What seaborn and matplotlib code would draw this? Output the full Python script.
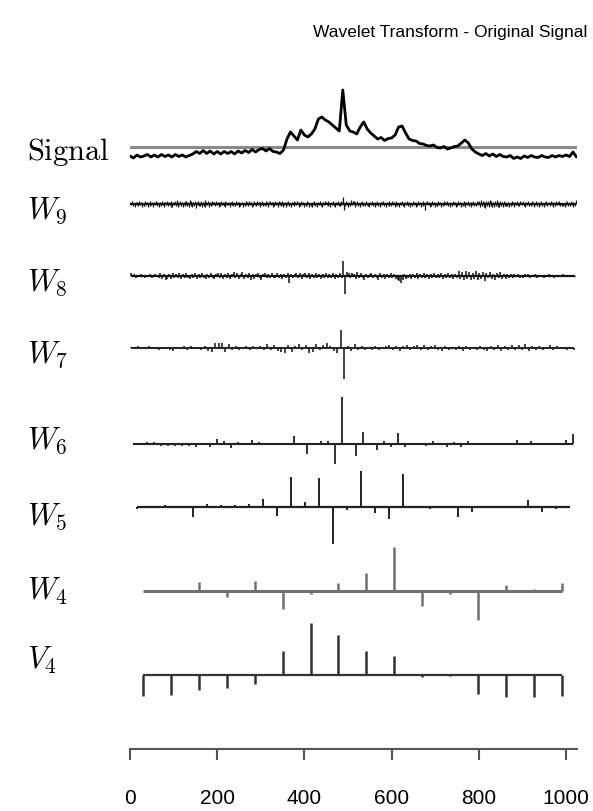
import numpy as np
import matplotlib
matplotlib.use("Agg")
import matplotlib.pyplot as plt
import seaborn as sns

# ---------------- data (pixel-ish amplitude units) -------------
title = "Wavelet Transform - Original Signal"
row_labels = [r"$\mathrm{Signal}$", r"$W_9$", r"$W_8$", r"$W_7$", r"$W_6$", r"$W_5$", r"$W_4$", r"$V_4$"]
xtick_values = [0, 200, 400, 600, 800, 1000]

# original signal, sampled every 8 points (0 .. 1024)
signal = [-9, -11, -8, -10, -9, -7.5, -10, -8, -10, -7.5, -9.5, -8, -10, -7.5, -9.5, -8,
          -10, -8.5, -7, -4.5, -6.5, -3.5, -6.5, -4, -7, -4.5, -7, -4.5, -6.5, -4.5, -7, -4,
          -6, -3.5, -5.5, -2.5, -5, -2.5, -1.5, -4, -1.5, -4.5, -5, -6.5, -3, 8, 15, 11,
          7, 17, 12, 10, 13, 18, 28, 30, 27, 25, 22, 19, 16, 57, 22, 16,
          15, 13, 20, 25, 18, 14, 11, 8, 9.5, 6.5, 8.5, 9, 12, 20, 21, 14,
          8, 6.5, 6, 3.5, 3, 1.5, 1, 2, -0.5, -1, 0.5, -2, -1, 0.5, 1, 4,
          7, 4, -2, -5, -7, -8.5, -6.5, -9, -7, -9.5, -7.5, -9.5, -10, -8.5, -11.5, -10,
          -11.5, -9, -10.5, -8.5, -10, -10.5, -8.5, -10, -10.5, -8.5, -10, -8.5, -9.5, -8, -9.5, -5,
          -10]

w9 = [2, -1, 3, -2, 1, -3, 2, -1, 2, -2, 3, -1, 2, -3, 1, -2,
      -2, 3, -1, 2, -3, 1, -2, 3, -1, 2, -3, 2, -1, 3, -2, 2,
      1, -3, 2, -2, 3, -1, 2, -3, 2, -1, 3, -2, 2, -1, 3, -3,
      -3, 2, -1, 3, -2, 4, -3, 2, -1, 3, -2, 2, -3, 1, -2, 3,
      3, -2, 2, -3, 4, -2, 3, -3, 2, -2, 3, -4, 2, -1, 3, -2,
      -2, 3, -3, 2, -2, 4, -3, 2, -1, 3, -3, 2, -2, 3, -1, 2,
      2, -2, 3, -1, 2, -3, 2, -2, 3, -1, 2, -2, 3, -3, 2, -1,
      -1, 2, -3, 2, -1, 3, -2, 1, -2, 3, -1, 2, -3, 2, -2, 1,
      2, -3, 1, -2, 3, -1, 2, -2, 3, -1, 2, -3, 1, -2, 3, -1,
      -2, 3, -1, 2, -3, 2, -1, 3, -2, 1, -2, 3, -1, 2, -3, 2,
      3, -1, 2, -3, 2, -2, 3, -1, 2, -3, 3, -1, 2, -2, 3, -3,
      -1, 2, -3, 2, -1, 3, -2, 1, -3, 2, -1, 3, -2, 2, -1, 3,
      2, -3, 1, -2, 3, -1, 2, -3, 1, -2, 3, -1, 2, -3, 1, -2,
      -3, 2, -1, 3, -2, 1, -3, 2, -1, 3, -2, 1, -3, 2, -1, 3,
      2, -1, 3, -2, 1, -3, 2, -1, 3, -2, 1, -3, 2, -1, 3, -2,
      -2, 3, -1, 2, 7, -6, -2, 3, -1, 2, -3, 1, -2, 4, -1, 3,
      3, -3, 2, -1, 3, -2, 1, -3, 2, -1, 3, -2, 1, -2, 3, -1,
      -2, 1, -3, 2, -1, 3, -2, 1, -3, 2, -1, 3, -2, 1, -3, 2,
      2, -1, 3, -2, 1, -3, 2, -1, 3, -2, 1, -2, 3, -1, 2, -3,
      -1, 3, -2, 1, -3, 2, -1, 3, -2, 1, -3, 2, -1, 3, -2, 1,
      2, -3, 1, -2, 3, -1, 2, -3, 1, -2, 3, -1, 2, -3, 1, -2,
      3, -1, -6, 2, 3, -1, 2, -3, 1, -2, 3, -1, 2, -3, 1, -2,
      -2, 3, -1, 2, -3, 1, -2, 3, -1, 2, -1, 3, -2, 1, -3, 2,
      1, -2, 3, -1, 2, -3, 1, -2, 3, -1, 2, -3, 1, -2, 3, -1,
      -3, 2, -1, 3, -2, 1, -3, 2, -1, 3, -2, 1, -2, 3, -1, 2,
      3, -3, 4, -2, 3, -3, 2, -4, 3, -2, 3, -3, 4, -2, 3, -3,
      2, -3, 3, -2, 4, -3, 2, -3, 3, -2, 2, -3, 3, -2, 2, -2,
      -2, 2, -3, 1, -2, 3, -1, 2, -3, 2, -1, 3, -2, 1, -2, 3,
      2, -1, 3, -2, 1, -3, 2, -1, 3, -2, 1, -2, 3, -1, 2, -3,
      -1, 3, -2, 1, -3, 2, -1, 3, -2, 1, -3, 2, -1, 3, -2, 1,
      2, -2, 3, -1, 2, -3, 1, -2, 3, -1, 2, -1, 3, -2, 1, -2,
      -2, 1, -3, 2, -1, 3, -2, 1, -2, 3, -1, 2, -3, 1, -2, 4]

w8 = [3, -1, 2, -2, 1, -1, 2, 1, -2, 1, -1, 2, -2, 1, 2, -1,
      -2, 3, -3, 2, -4, -3, 2, -3, 3, -2, 2, -2, 3, -3, 2, -2,
      3, -2, -3, 2, -2, 3, -3, 2, -2, 3, -2, -3, 2, -2, 3, -2,
      -3, 2, 3, -2, 3, -3, 2, -2, 3, -3, 2, 4, -2, 3, -3, 2,
      4, -3, 2, -2, 3, -4, 2, -3, 2, 3, -2, -4, 2, 3, -2, 2,
      -2, 3, -2, -2, 3, -2, 2, -3, 2, -2, 3, -7, 2, -2, 2, 3,
      -2, 3, -3, 2, 3, -2, 3, -3, 2, -2, 3, -2, 2, -3, 2, -2,
      3, -2, 2, -2, 3, -3, 2, -2, 3, -2, 15, -18, 4, 3, -2, 3,
      2, -3, 4, -2, 3, -2, -4, 2, -2, 2, 3, -2, 2, -2, -4, 3,
      -2, 2, -3, 2, -2, 3, -2, 2, -3, -4, -5, -7, -4, 2, -3, -2,
      2, -3, 2, -2, 3, -3, 2, -2, 3, -2, 2, -3, 2, -2, 3, -2,
      2, -2, 3, -3, 2, -2, 3, -2, 2, -3, 2, -2, 5, -3, 4, -4,
      5, -3, 4, -4, 3, -3, 5, -4, 3, -3, 4, -5, 3, -2, 4, -3,
      2, -4, 3, -2, 4, -3, 2, -3, 2, -2, 2, -2, 2, -1, 2, -2,
      1, -2, 2, -1, 2, -2, 1, -1, 2, -2, 1, -1, 1, -2, 1, -1,
      2, -1, 1, -2, 1, -1, 1, -1, 2, -1, 1, -1, 1, -1, 1, -1]

w7 = [1, -1, 2, -1, 1, 2, -1, 1, -2, 1,
      1, -2, -3, 1, -1, 2, -2, 2, -1, 1,
      -2, 2, -3, -4, 5, 5, 5, -4, 4, -2,
      2, -2, -1, 2, -2, 2, -1, 2, -2, 4,
      -2, 3, -3, -4, -5, 3, -4, 2, 4, -2,
      3, -5, -4, 4, -2, 3, 5, 2, -3, -5,
      18, -31, 2, -3, 4, -2, 2, -2, 1, -2,
      2, -2, 1, 2, 3, -2, 2, -3, 2, 3,
      -2, 2, 3, -2, 3, -2, 2, 3, -2, -3,
      2, -2, 1, -2, 2, -3, 2, -2, 1, -2,
      2, -2, -3, 2, -2, 3, -3, 2, -2, 3,
      -2, 3, -2, 4, -3, 2, -2, 2, -2, 1,
      3, -2, 2, -1, 1, -2, 1, -2]

w6 = [0, 1, 2, 2, -2, -2, -2, -2, -2, -3, 1, -3, 5, 3, -4, 2,
      1, 4, 2, -1, 1, 0.5, -1, 8, 0, -10, 1, 3, 3, -20, 47, -1,
      -12, 12, 1, -6, 3, -3, 11, -3, -1, 0, -2, 3, 0, -3, 2, -3,
      3, 1, 0, 0, 0, 0, -1, 4, 1, 3, 1, 0, -1, 0, 4, 10]

w5 = [-2, 0, 2, 0, -10, 3, 2, 2, 3, 8, -9, 30, 5, 29, -37, -3,
      36, -6, -12, 33, -1, -2, -1, -10, -5, 1, -1, 1, 7, -5, -2, 0]

w4 = [0, 0.5, 9, -6, 10, -18, -3, 8, 18, 44, -15, -3, -29, 6, 2, 8]

v4 = [-21, -20, -15, -13, -9, 24, 52, 40, 24, 19, -2, -1, -19, -22, -22, -21]

# ---------------- layout ----------------
W, H = 593, 812
sns.set_style("white")
plt.rcParams["font.family"] = ["Liberation Sans", "DejaVu Sans"]
plt.rcParams["mathtext.fontset"] = "cm"
plt.rcParams["text.color"] = "black"

fig = plt.figure(figsize=(W / 100, H / 100), dpi=100)
ax_top_px, ax_bot_px, ax_left_px, ax_right_px = 55, 750, 130, 576.5
ax = fig.add_axes([ax_left_px / W, 1 - ax_bot_px / H,
                   (ax_right_px - ax_left_px) / W, (ax_bot_px - ax_top_px) / H])
ax.set_xlim(0, 1024)
ax.set_ylim(-ax_bot_px, -ax_top_px)

# row baselines in reference pixel rows
base_signal = 148
row_specs = [  # values, first position, spacing, baseline px, colour, stem lw, base lw
    (w9, 1, 2, 205, "#111111", 0.9, 1.6),
    (w8, 1.5, 4, 277, "#111111", 1.1, 1.6),
    (w7, 3, 8, 349, "#222222", 1.2, 1.4),
    (w6, 7, 16, 445, "#222222", 1.3, 1.5),
    (w5, 17, 32, 508, "#222222", 1.4, 1.6),
    (w4, 30, 64, 592, "#707070", 1.8, 2.2),
    (v4, 30, 64, 676, "#333333", 1.8, 1.6),
]

# signal row
ax.axhline(-base_signal, color="#8a8a8a", lw=2.2, zorder=1)
sig_x = np.arange(len(signal)) * 8
sns.lineplot(x=sig_x, y=np.array(signal) - base_signal, ax=ax, color="black",
             lw=2.0, zorder=2, estimator=None)

for vals, first, step, base, col, slw, blw in row_specs:
    vals = np.asarray(vals, dtype=float)
    pos = first + step * np.arange(len(vals))
    ax.hlines(-base, pos[0], pos[-1], color=col, lw=blw, zorder=2)
    ax.vlines(pos, -base, -base + vals, color=col, lw=slw, zorder=3)

# axes styling
for s in ["top", "right", "left"]:
    ax.spines[s].set_visible(False)
ax.spines["bottom"].set_color("#555555")
ax.spines["bottom"].set_linewidth(1.5)
ax.set_yticks([])
ax.set_xticks(xtick_values)
ax.set_xticklabels([str(v) for v in xtick_values], fontsize=15)
ax.tick_params(axis="x", bottom=True, direction="out", length=8, width=1.5,
               color="#555555", pad=20, labelcolor="black")
ax.set_xlabel("")
ax.set_ylabel("")

# row labels
label_baselines = [160, 219, 291, 363, 449, 525, 600, 669]
for lab, yb in zip(row_labels, label_baselines):
    fig.text(27 / W, 1 - yb / H, lab, fontsize=22, ha="left", va="baseline")

fig.text(450 / W, 1 - 32 / H, title, fontsize=12.5, ha="center", va="center")

fig.savefig("out.png", dpi=100)
